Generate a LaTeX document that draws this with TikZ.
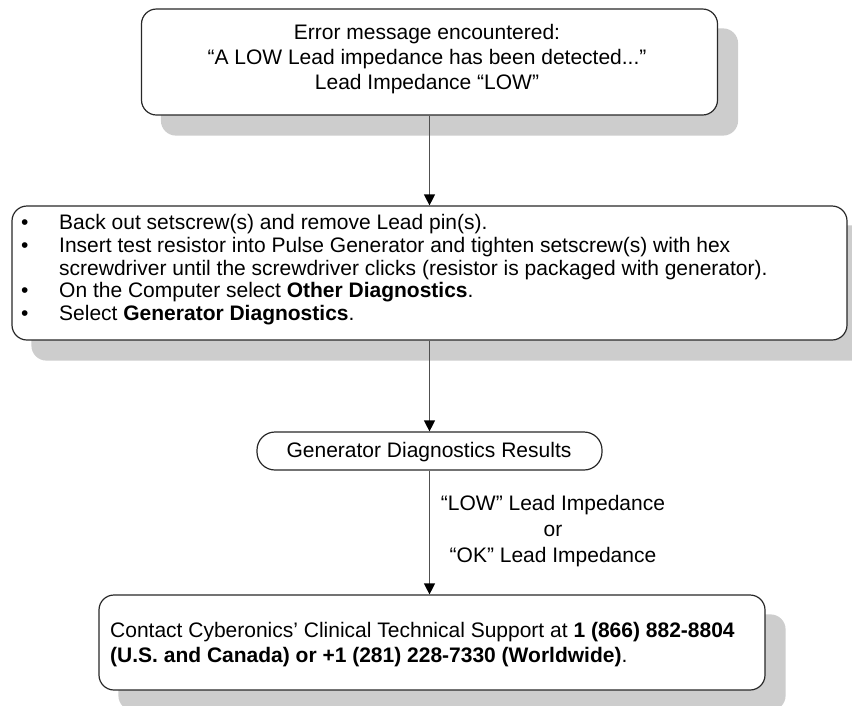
\documentclass[tikz,border=0pt]{standalone}
\usepackage{fontspec}
\setmainfont{Liberation Sans}
\usetikzlibrary{arrows.meta}
\pgfdeclarelayer{bg}
\pgfsetlayers{bg,main}
\definecolor{shadowc}{RGB}{205,205,205}
\definecolor{linec}{RGB}{80,80,80}
\definecolor{edgec}{RGB}{40,40,40}
\newcommand\bul{\makebox[38pt][l]{\textbullet}}
\tikzset{
  box/.style={draw=edgec, line width=1.2pt, fill=white, rounded corners=15pt, inner sep=0pt},
  pillbox/.style={draw=edgec, line width=1.2pt, fill=white, rounded corners=18pt, inner sep=0pt},
  shad/.style={fill=shadowc, rounded corners=15pt},
  flow/.style={draw=linec, line width=1.2pt, -{Triangle[width=11pt,length=11pt,color=black]}},
  txt/.style={inner sep=0pt, font=\fontsize{21}{25}\selectfont},
  txtb/.style={inner sep=0pt, font=\fontsize{21}{22.75}\selectfont}
}
\begin{document}
\begin{tikzpicture}[x=1pt,y=-1pt]
\useasboundingbox (0,0) rectangle (852,705);
% boxes
\node[box, minimum width=576pt, minimum height=106pt] (err) at (429.5,62) {};
\node[box, minimum width=835pt, minimum height=134pt] (steps) at (429.5,273) {};
\node[pillbox, minimum width=345pt, minimum height=38pt] (res) at (429.5,451) {};
\node[box, minimum width=666pt, minimum height=95pt] (contact) at (432,642.5) {};
% shadows
\begin{pgfonlayer}{bg}
  \foreach \b in {err,steps,contact}
    \fill[shad] ([shift={(20,20)}]\b.north west) rectangle ([shift={(20,20)}]\b.south east);
\end{pgfonlayer}
% texts (base anchor = baseline of the last line)
\node[txt, align=center, anchor=base] (errtxt) at (427,89.5)
  {Error message encountered:\\ “A LOW Lead impedance has been detected...”\\ Lead Impedance “LOW”};
\node[txtb, align=left, anchor=base west] (stepstxt) at (21,320.5)
  {\bul Back out setscrew(s) and remove Lead pin(s).\\
   \bul Insert test resistor into Pulse Generator and tighten setscrew(s) with hex\\
   \hspace*{38pt}screwdriver until the screwdriver clicks (resistor is packaged with generator).\\
   \bul On the Computer select \textbf{Other Diagnostics}.\\
   \bul Select \textbf{Generator Diagnostics}.};
\node[txt, anchor=base] (restxt) at (429,457.5) {Generator Diagnostics Results};
\node[txt, align=left, anchor=base west] (contacttxt) at (110,662.5)
  {Contact Cyberonics’ Clinical Technical Support at \textbf{1 (866) 882-8804}\\
   \textbf{(U.S. and Canada) or +1 (281) 228-7330 (Worldwide)}.};
% connectors
\draw[flow] (err.south) -- (err.south |- steps.north);
\draw[flow] (err.south |- steps.south) -- (res.north);
\draw[flow] (res.south) -- (res.south |- contact.north);
\node[txt, align=center, anchor=base] (cond) at (553,562.5)
  {“LOW” Lead Impedance\\[1pt] or\\[1pt] “OK” Lead Impedance};
\end{tikzpicture}
\end{document}
